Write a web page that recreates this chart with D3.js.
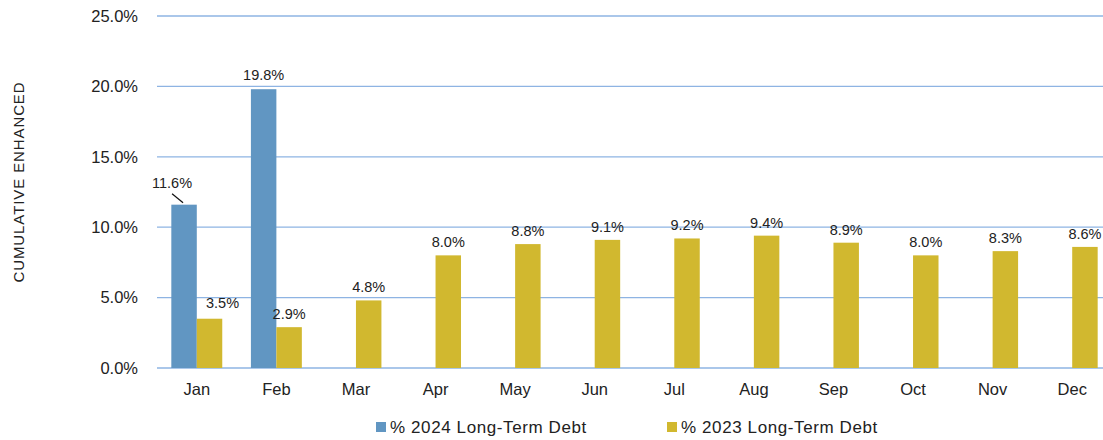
<!DOCTYPE html>
<html>
<head>
<meta charset="utf-8">
<script src="https://cdn.jsdelivr.net/npm/d3@7"></script>
<style>
  body { margin: 0; background: #fff; font-family: "Liberation Sans", Arial, sans-serif; }
</style>
</head>
<body>
<svg id="chart" width="1103" height="440"></svg>
<script>
const months = ["Jan", "Feb", "Mar", "Apr", "May", "Jun", "Jul", "Aug", "Sep", "Oct", "Nov", "Dec"]
const debt2024 = [11.6, 19.8, null, null, null, null, null, null, null, null, null, null]
const debt2023 = [3.5, 2.9, 4.8, 8.0, 8.8, 9.1, 9.2, 9.4, 8.9, 8.0, 8.3, 8.6]
const yTicks = [0, 5, 10, 15, 20, 25]
const seriesNames = ["% 2024 Long-Term Debt", "% 2023 Long-Term Debt"]
const colors = ["#6196c2", "#d1b82f"]

const svg = d3.select("#chart")

const x = d3.scaleBand().domain(months).range([157, 1112]).paddingInner(0).paddingOuter(0)
const bw = x.bandwidth() * 0.32
const y = d3.scaleLinear().domain([0, 25]).range([368, 16])

// gridlines
svg.append("g").selectAll("line").data(yTicks).enter().append("line")
  .attr("x1", 157).attr("x2", 1103)
  .attr("y1", d => y(d)).attr("y2", d => y(d))
  .attr("stroke", "#8eb4e3").attr("stroke-width", 1.3)

// y axis
const yAxis = svg.append("g")
  .attr("transform", "translate(150,0)")
  .call(d3.axisLeft(y).tickValues(yTicks).tickSize(0).tickPadding(12).tickFormat(d => d.toFixed(1) + "%"))
yAxis.select(".domain").remove()
yAxis.selectAll("text").attr("font-size", 16.5).attr("fill", "#222").attr("font-family", "Liberation Sans, Arial, sans-serif")

svg.append("text")
  .attr("transform", `translate(24,182) rotate(-90)`)
  .attr("text-anchor", "middle")
  .attr("font-size", 15).attr("letter-spacing", 0.9).attr("fill", "#222")
  .text("CUMULATIVE  ENHANCED")

// x axis
const xAxis = svg.append("g")
  .attr("transform", "translate(0,368)")
  .call(d3.axisBottom(x).tickSize(0).tickPadding(15))
xAxis.select(".domain").remove()
xAxis.selectAll("text").attr("font-size", 16.5).attr("fill", "#222").attr("font-family", "Liberation Sans, Arial, sans-serif")

const fmt = d => d.toFixed(1) + "%"

// 2024 bars
const blue = months.map((m, i) => ({ m, v: debt2024[i] })).filter(d => d.v != null)
svg.append("g").selectAll("rect").data(blue).enter().append("rect")
  .attr("x", d => x(d.m) + x.bandwidth() / 2 - bw)
  .attr("y", d => y(d.v))
  .attr("width", bw)
  .attr("height", d => y(0) - y(d.v))
  .attr("fill", colors[0])

// 2023 bars
const gold = months.map((m, i) => ({ m, v: debt2023[i] }))
svg.append("g").selectAll("rect").data(gold).enter().append("rect")
  .attr("x", d => x(d.m) + x.bandwidth() / 2)
  .attr("y", d => y(d.v))
  .attr("width", bw)
  .attr("height", d => y(0) - y(d.v))
  .attr("fill", colors[1])

// labels for 2024
svg.append("g").selectAll("text").data(blue).enter().append("text")
  .attr("x", (d, i) => x(d.m) + x.bandwidth() / 2 - bw / 2 - (i === 0 ? 12 : 0))
  .attr("y", (d, i) => y(d.v) - (i === 0 ? 17 : 9))
  .attr("text-anchor", "middle")
  .attr("font-size", 14.5).attr("fill", "#222")
  .text(d => fmt(d.v))

// leader line for Jan label
svg.append("line")
  .attr("x1", x("Jan") + x.bandwidth() / 2 - bw / 2 - 12)
  .attr("y1", y(debt2024[0]) - 11)
  .attr("x2", x("Jan") + x.bandwidth() / 2 - bw / 2 - 1)
  .attr("y2", y(debt2024[0]) - 2)
  .attr("stroke", "#111").attr("stroke-width", 1.2)

// labels for 2023
svg.append("g").selectAll("text").data(gold).enter().append("text")
  .attr("x", (d, i) => x(d.m) + x.bandwidth() / 2 + bw / 2 + (i === 0 ? 13 : 0))
  .attr("y", (d, i) => y(d.v) - (i === 0 ? 11 : 8))
  .attr("text-anchor", "middle")
  .attr("font-size", 14.5).attr("fill", "#222")
  .text(d => fmt(d.v))

// legend
const legendX = [376, 667]
const legend = svg.append("g").selectAll("g").data(seriesNames).enter().append("g")
  .attr("transform", (d, i) => `translate(${legendX[i]},422)`)
legend.append("rect").attr("width", 10).attr("height", 10).attr("fill", (d, i) => colors[i])
legend.append("text").attr("x", 14).attr("y", 11)
  .attr("font-size", 17).attr("letter-spacing", 0.6).attr("fill", "#222")
  .text(d => d)
</script>
</body>
</html>
